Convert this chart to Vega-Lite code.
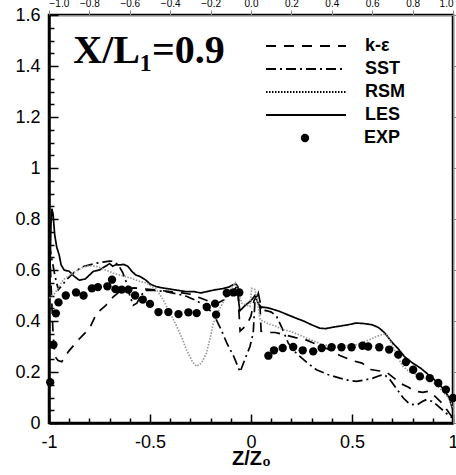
{
  "$schema": "https://vega.github.io/schema/vega-lite/v6.json",
  "autosize": {"type": "none"},
  "padding": {"left": 49, "top": 15, "right": 3, "bottom": 52},
  "width": 404,
  "height": 408,
  "background": "white",
  "config": {
    "view": {"stroke": "black", "strokeWidth": 2.5},
    "font": "Liberation Sans"
  },
  "resolve": {"axis": {"x": "independent", "y": "independent"}},
  "datasets": {
    "lines": [
      {"s":"LES","x":-0.998,"y":0.50},{"s":"LES","x":-0.99,"y":0.78},{"s":"LES","x":-0.986,"y":0.84},{"s":"LES","x":-0.98,"y":0.82},{"s":"LES","x":-0.972,"y":0.74},{"s":"LES","x":-0.962,"y":0.69},{"s":"LES","x":-0.95,"y":0.66},{"s":"LES","x":-0.94,"y":0.62},{"s":"LES","x":-0.925,"y":0.60},{"s":"LES","x":-0.9,"y":0.595},{"s":"LES","x":-0.875,"y":0.575},{"s":"LES","x":-0.85,"y":0.56},{"s":"LES","x":-0.82,"y":0.565},{"s":"LES","x":-0.8,"y":0.58},{"s":"LES","x":-0.78,"y":0.595},{"s":"LES","x":-0.75,"y":0.60},{"s":"LES","x":-0.72,"y":0.615},{"s":"LES","x":-0.70,"y":0.625},{"s":"LES","x":-0.685,"y":0.615},{"s":"LES","x":-0.67,"y":0.62},{"s":"LES","x":-0.65,"y":0.62},{"s":"LES","x":-0.63,"y":0.622},{"s":"LES","x":-0.61,"y":0.615},{"s":"LES","x":-0.59,"y":0.595},{"s":"LES","x":-0.57,"y":0.58},{"s":"LES","x":-0.55,"y":0.575},{"s":"LES","x":-0.52,"y":0.56},{"s":"LES","x":-0.50,"y":0.545},{"s":"LES","x":-0.47,"y":0.535},{"s":"LES","x":-0.44,"y":0.53},{"s":"LES","x":-0.40,"y":0.525},{"s":"LES","x":-0.36,"y":0.52},{"s":"LES","x":-0.32,"y":0.515},{"s":"LES","x":-0.28,"y":0.515},{"s":"LES","x":-0.25,"y":0.51},{"s":"LES","x":-0.22,"y":0.515},{"s":"LES","x":-0.18,"y":0.522},{"s":"LES","x":-0.14,"y":0.527},{"s":"LES","x":-0.11,"y":0.533},{"s":"LES","x":-0.09,"y":0.542},{"s":"LES","x":-0.075,"y":0.545},{"s":"LES","x":-0.065,"y":0.535},{"s":"LES","x":-0.06,"y":0.47},{"s":"LES","x":-0.055,"y":0.44},{"s":"LES","x":-0.03,"y":0.46},{"s":"LES","x":0.0,"y":0.48},{"s":"LES","x":0.02,"y":0.50},{"s":"LES","x":0.035,"y":0.47},{"s":"LES","x":0.05,"y":0.455},{"s":"LES","x":0.08,"y":0.452},{"s":"LES","x":0.10,"y":0.448},{"s":"LES","x":0.14,"y":0.438},{"s":"LES","x":0.18,"y":0.425},{"s":"LES","x":0.22,"y":0.412},{"s":"LES","x":0.26,"y":0.40},{"s":"LES","x":0.30,"y":0.385},{"s":"LES","x":0.34,"y":0.372},{"s":"LES","x":0.37,"y":0.37},{"s":"LES","x":0.40,"y":0.375},{"s":"LES","x":0.44,"y":0.38},{"s":"LES","x":0.48,"y":0.385},{"s":"LES","x":0.52,"y":0.392},{"s":"LES","x":0.56,"y":0.39},{"s":"LES","x":0.60,"y":0.385},{"s":"LES","x":0.63,"y":0.375},{"s":"LES","x":0.66,"y":0.355},{"s":"LES","x":0.70,"y":0.315},{"s":"LES","x":0.73,"y":0.29},{"s":"LES","x":0.76,"y":0.26},{"s":"LES","x":0.80,"y":0.235},{"s":"LES","x":0.84,"y":0.215},{"s":"LES","x":0.87,"y":0.195},{"s":"LES","x":0.90,"y":0.175},{"s":"LES","x":0.935,"y":0.15},{"s":"LES","x":0.96,"y":0.125},{"s":"LES","x":0.98,"y":0.10},{"s":"LES","x":1.0,"y":0.05},

      {"s":"k-ε","x":-0.997,"y":0.68},{"s":"k-ε","x":-0.99,"y":0.55},{"s":"k-ε","x":-0.98,"y":0.35},{"s":"k-ε","x":-0.97,"y":0.26},{"s":"k-ε","x":-0.955,"y":0.245},{"s":"k-ε","x":-0.937,"y":0.24},{"s":"k-ε","x":-0.904,"y":0.28},{"s":"k-ε","x":-0.85,"y":0.33},{"s":"k-ε","x":-0.80,"y":0.37},{"s":"k-ε","x":-0.764,"y":0.43},{"s":"k-ε","x":-0.72,"y":0.46},{"s":"k-ε","x":-0.682,"y":0.495},{"s":"k-ε","x":-0.65,"y":0.515},{"s":"k-ε","x":-0.62,"y":0.525},{"s":"k-ε","x":-0.58,"y":0.53},{"s":"k-ε","x":-0.52,"y":0.525},{"s":"k-ε","x":-0.45,"y":0.52},{"s":"k-ε","x":-0.40,"y":0.515},{"s":"k-ε","x":-0.34,"y":0.51},{"s":"k-ε","x":-0.30,"y":0.505},{"s":"k-ε","x":-0.25,"y":0.49},{"s":"k-ε","x":-0.20,"y":0.475},{"s":"k-ε","x":-0.17,"y":0.468},{"s":"k-ε","x":-0.13,"y":0.485},{"s":"k-ε","x":-0.10,"y":0.505},{"s":"k-ε","x":-0.075,"y":0.53},{"s":"k-ε","x":-0.065,"y":0.54},{"s":"k-ε","x":-0.06,"y":0.44},{"s":"k-ε","x":-0.054,"y":0.36},{"s":"k-ε","x":-0.021,"y":0.385},{"s":"k-ε","x":0.0,"y":0.42},{"s":"k-ε","x":0.015,"y":0.48},{"s":"k-ε","x":0.03,"y":0.50},{"s":"k-ε","x":0.045,"y":0.45},{"s":"k-ε","x":0.05,"y":0.36},{"s":"k-ε","x":0.08,"y":0.355},{"s":"k-ε","x":0.12,"y":0.355},{"s":"k-ε","x":0.17,"y":0.345},{"s":"k-ε","x":0.22,"y":0.335},{"s":"k-ε","x":0.26,"y":0.33},{"s":"k-ε","x":0.32,"y":0.31},{"s":"k-ε","x":0.38,"y":0.29},{"s":"k-ε","x":0.44,"y":0.265},{"s":"k-ε","x":0.50,"y":0.245},{"s":"k-ε","x":0.55,"y":0.235},{"s":"k-ε","x":0.59,"y":0.21},{"s":"k-ε","x":0.63,"y":0.205},{"s":"k-ε","x":0.67,"y":0.20},{"s":"k-ε","x":0.71,"y":0.175},{"s":"k-ε","x":0.74,"y":0.155},{"s":"k-ε","x":0.78,"y":0.14},{"s":"k-ε","x":0.81,"y":0.125},{"s":"k-ε","x":0.85,"y":0.12},{"s":"k-ε","x":0.88,"y":0.125},{"s":"k-ε","x":0.91,"y":0.105},{"s":"k-ε","x":0.95,"y":0.075},{"s":"k-ε","x":0.98,"y":0.04},{"s":"k-ε","x":1.0,"y":0.02},

      {"s":"SST","x":-0.997,"y":0.70},{"s":"SST","x":-0.99,"y":0.66},{"s":"SST","x":-0.97,"y":0.575},{"s":"SST","x":-0.954,"y":0.523},{"s":"SST","x":-0.935,"y":0.54},{"s":"SST","x":-0.913,"y":0.562},{"s":"SST","x":-0.87,"y":0.595},{"s":"SST","x":-0.83,"y":0.614},{"s":"SST","x":-0.764,"y":0.627},{"s":"SST","x":-0.70,"y":0.635},{"s":"SST","x":-0.682,"y":0.634},{"s":"SST","x":-0.657,"y":0.62},{"s":"SST","x":-0.635,"y":0.59},{"s":"SST","x":-0.616,"y":0.549},{"s":"SST","x":-0.60,"y":0.50},{"s":"SST","x":-0.583,"y":0.462},{"s":"SST","x":-0.565,"y":0.47},{"s":"SST","x":-0.545,"y":0.50},{"s":"SST","x":-0.52,"y":0.52},{"s":"SST","x":-0.48,"y":0.52},{"s":"SST","x":-0.42,"y":0.515},{"s":"SST","x":-0.36,"y":0.505},{"s":"SST","x":-0.32,"y":0.497},{"s":"SST","x":-0.27,"y":0.48},{"s":"SST","x":-0.23,"y":0.46},{"s":"SST","x":-0.187,"y":0.43},{"s":"SST","x":-0.15,"y":0.37},{"s":"SST","x":-0.12,"y":0.314},{"s":"SST","x":-0.085,"y":0.26},{"s":"SST","x":-0.054,"y":0.20},{"s":"SST","x":-0.03,"y":0.25},{"s":"SST","x":-0.005,"y":0.30},{"s":"SST","x":0.011,"y":0.353},{"s":"SST","x":0.02,"y":0.484},{"s":"SST","x":0.036,"y":0.51},{"s":"SST","x":0.053,"y":0.444},{"s":"SST","x":0.08,"y":0.44},{"s":"SST","x":0.10,"y":0.435},{"s":"SST","x":0.127,"y":0.418},{"s":"SST","x":0.155,"y":0.37},{"s":"SST","x":0.184,"y":0.314},{"s":"SST","x":0.21,"y":0.285},{"s":"SST","x":0.242,"y":0.261},{"s":"SST","x":0.28,"y":0.235},{"s":"SST","x":0.324,"y":0.209},{"s":"SST","x":0.38,"y":0.19},{"s":"SST","x":0.44,"y":0.176},{"s":"SST","x":0.48,"y":0.168},{"s":"SST","x":0.522,"y":0.163},{"s":"SST","x":0.56,"y":0.168},{"s":"SST","x":0.604,"y":0.176},{"s":"SST","x":0.638,"y":0.186},{"s":"SST","x":0.66,"y":0.19},{"s":"SST","x":0.688,"y":0.17},{"s":"SST","x":0.72,"y":0.135},{"s":"SST","x":0.754,"y":0.098},{"s":"SST","x":0.785,"y":0.075},{"s":"SST","x":0.82,"y":0.07},{"s":"SST","x":0.85,"y":0.085},{"s":"SST","x":0.869,"y":0.092},{"s":"SST","x":0.895,"y":0.085},{"s":"SST","x":0.918,"y":0.072},{"s":"SST","x":0.95,"y":0.05},{"s":"SST","x":0.984,"y":0.026},{"s":"SST","x":1.0,"y":0.02},

      {"s":"RSM","x":-0.998,"y":0.49},{"s":"RSM","x":-0.97,"y":0.51},{"s":"RSM","x":-0.95,"y":0.535},{"s":"RSM","x":-0.929,"y":0.562},{"s":"RSM","x":-0.90,"y":0.578},{"s":"RSM","x":-0.88,"y":0.588},{"s":"RSM","x":-0.83,"y":0.612},{"s":"RSM","x":-0.80,"y":0.617},{"s":"RSM","x":-0.764,"y":0.614},{"s":"RSM","x":-0.72,"y":0.60},{"s":"RSM","x":-0.682,"y":0.588},{"s":"RSM","x":-0.64,"y":0.578},{"s":"RSM","x":-0.60,"y":0.569},{"s":"RSM","x":-0.55,"y":0.555},{"s":"RSM","x":-0.517,"y":0.549},{"s":"RSM","x":-0.47,"y":0.525},{"s":"RSM","x":-0.435,"y":0.484},{"s":"RSM","x":-0.40,"y":0.43},{"s":"RSM","x":-0.368,"y":0.38},{"s":"RSM","x":-0.34,"y":0.33},{"s":"RSM","x":-0.32,"y":0.288},{"s":"RSM","x":-0.29,"y":0.24},{"s":"RSM","x":-0.27,"y":0.222},{"s":"RSM","x":-0.245,"y":0.235},{"s":"RSM","x":-0.22,"y":0.275},{"s":"RSM","x":-0.20,"y":0.34},{"s":"RSM","x":-0.187,"y":0.39},{"s":"RSM","x":-0.16,"y":0.44},{"s":"RSM","x":-0.137,"y":0.475},{"s":"RSM","x":-0.11,"y":0.515},{"s":"RSM","x":-0.088,"y":0.541},{"s":"RSM","x":-0.078,"y":0.55},{"s":"RSM","x":-0.065,"y":0.52},{"s":"RSM","x":-0.046,"y":0.47},{"s":"RSM","x":-0.02,"y":0.462},{"s":"RSM","x":-0.005,"y":0.457},{"s":"RSM","x":0.003,"y":0.528},{"s":"RSM","x":0.02,"y":0.523},{"s":"RSM","x":0.035,"y":0.46},{"s":"RSM","x":0.045,"y":0.405},{"s":"RSM","x":0.078,"y":0.392},{"s":"RSM","x":0.12,"y":0.38},{"s":"RSM","x":0.16,"y":0.366},{"s":"RSM","x":0.193,"y":0.36},{"s":"RSM","x":0.24,"y":0.345},{"s":"RSM","x":0.30,"y":0.325},{"s":"RSM","x":0.356,"y":0.307},{"s":"RSM","x":0.40,"y":0.302},{"s":"RSM","x":0.46,"y":0.302},{"s":"RSM","x":0.522,"y":0.307},{"s":"RSM","x":0.56,"y":0.318},{"s":"RSM","x":0.604,"y":0.333},{"s":"RSM","x":0.64,"y":0.345},{"s":"RSM","x":0.67,"y":0.35},{"s":"RSM","x":0.70,"y":0.305},{"s":"RSM","x":0.725,"y":0.26},{"s":"RSM","x":0.752,"y":0.222},{"s":"RSM","x":0.785,"y":0.20},{"s":"RSM","x":0.818,"y":0.19},{"s":"RSM","x":0.85,"y":0.178},{"s":"RSM","x":0.884,"y":0.17},{"s":"RSM","x":0.92,"y":0.148},{"s":"RSM","x":0.95,"y":0.124},{"s":"RSM","x":0.975,"y":0.10},{"s":"RSM","x":0.99,"y":0.078},{"s":"RSM","x":1.0,"y":0.06}
    ],
    "exp": [
      {"x":-0.994,"y":0.16},{"x":-0.978,"y":0.307},{"x":-0.966,"y":0.43},{"x":-0.953,"y":0.473},{"x":-0.917,"y":0.50},{"x":-0.866,"y":0.512},{"x":-0.829,"y":0.50},{"x":-0.788,"y":0.528},{"x":-0.758,"y":0.533},{"x":-0.711,"y":0.536},{"x":-0.688,"y":0.562},{"x":-0.671,"y":0.525},{"x":-0.64,"y":0.523},{"x":-0.607,"y":0.523},{"x":-0.574,"y":0.50},{"x":-0.536,"y":0.484},{"x":-0.50,"y":0.467},{"x":-0.458,"y":0.435},{"x":-0.409,"y":0.435},{"x":-0.359,"y":0.427},{"x":-0.31,"y":0.434},{"x":-0.269,"y":0.431},{"x":-0.219,"y":0.455},{"x":-0.178,"y":0.468},{"x":-0.173,"y":0.425},{"x":-0.12,"y":0.51},{"x":-0.087,"y":0.512},{"x":-0.058,"y":0.512},
      {"x":0.086,"y":0.264},{"x":0.114,"y":0.285},{"x":0.157,"y":0.294},{"x":0.209,"y":0.298},{"x":0.256,"y":0.285},{"x":0.308,"y":0.281},{"x":0.35,"y":0.294},{"x":0.399,"y":0.297},{"x":0.448,"y":0.297},{"x":0.498,"y":0.297},{"x":0.552,"y":0.303},{"x":0.58,"y":0.30},{"x":0.635,"y":0.297},{"x":0.684,"y":0.288},{"x":0.729,"y":0.268},{"x":0.767,"y":0.239},{"x":0.803,"y":0.209},{"x":0.836,"y":0.183},{"x":0.885,"y":0.176},{"x":0.927,"y":0.157},{"x":0.965,"y":0.131},{"x":1.0,"y":0.098}
    ],
    "label": [{"t": "X/L₁=0.9", "x": -0.88, "y": 1.41}]
  },
  "layer": [
    {
      "data": {"name": "lines"},
      "mark": {"type": "line", "strokeWidth": 1.7, "clip": true},
      "encoding": {
        "x": {
          "field": "x", "type": "quantitative",
          "scale": {"domain": [-1, 1], "nice": false, "zero": false},
          "axis": {
            "orient": "bottom",
            "title": "Z/Z₀",
            "titleFont": "Liberation Sans", "titleFontSize": 20, "titleFontWeight": "bold", "titleColor": "black", "titlePadding": -3,
            "values": [-1,-0.5,0,0.5,1],
            "labelExpr": "'' + datum.value",
            "labelFont": "Liberation Sans", "labelFontSize": 18, "labelColor": "black", "labelPadding": 19,
            "labelOverlap": false, "labelFlush": false,
            "tickSize": -9, "tickColor": "black", "tickWidth": 1.5,
            "domainColor": "black", "domainWidth": 2.5,
            "grid": false
          }
        },
        "y": {
          "field": "y", "type": "quantitative",
          "scale": {"domain": [0, 1.6], "nice": false, "zero": false},
          "axis": {
            "orient": "left",
            "title": null,
            "values": [0,0.2,0.4,0.6,0.8,1,1.2,1.4,1.6],
            "labelExpr": "'' + datum.value",
            "labelFont": "Liberation Sans", "labelFontSize": 18, "labelColor": "black", "labelPadding": 18,
            "labelOverlap": false,
            "tickSize": -9, "tickColor": "black", "tickWidth": 1.5,
            "domainColor": "black", "domainWidth": 2.5,
            "grid": false
          }
        },
        "color": {
          "condition": {"test": "datum.s === 'RSM'", "value": "#999999"},
          "value": "black"
        },
        "strokeDash": {
          "field": "s", "type": "nominal",
          "scale": {"domain": ["k-ε","SST","RSM","LES"], "range": [[10,8],[10,4,2,4],[1.5,1.5],[1,0]]},
          "legend": {
            "title": null,
            "orient": "none", "legendX": 216, "legendY": 22,
            "symbolType": "stroke", "symbolSize": 6400, "symbolStrokeWidth": 2,
            "clipHeight": 18, "rowPadding": 5,
            "labelFont": "Liberation Sans", "labelFontSize": 18, "labelFontWeight": "bold", "labelColor": "black", "labelOffset": 18,
            "encode": {
              "symbols": {
                "update": {
                  "stroke": {"signal": "datum.value === 'RSM' ? '#999999' : 'black'"}
                }
              }
            }
          }
        }
      }
    },
    {
      "data": {"name": "exp"},
      "mark": {"type": "point", "filled": true, "color": "black", "size": 70, "opacity": 1, "clip": false},
      "encoding": {
        "x": {
          "field": "x", "type": "quantitative",
          "axis": {
            "orient": "bottom", "title": null,
            "values": [-0.9,-0.8,-0.7,-0.6,-0.4,-0.3,-0.2,-0.1,0.1,0.2,0.3,0.4,0.6,0.7,0.8,0.9],
            "labels": false, "domain": false, "grid": false,
            "tickSize": -5, "tickColor": "black", "tickWidth": 1.5
          }
        },
        "y": {
          "field": "y", "type": "quantitative",
          "axis": {
            "orient": "left", "title": null,
            "values": [0.05,0.1,0.15,0.25,0.3,0.35,0.45,0.5,0.55,0.65,0.7,0.75,0.85,0.9,0.95,1.05,1.1,1.15,1.25,1.3,1.35,1.45,1.5,1.55],
            "labels": false, "domain": false, "grid": false,
            "tickSize": -5, "tickColor": "black", "tickWidth": 1.5
          }
        },
        "shape": {
          "datum": "EXP", "type": "nominal",
          "scale": {"domain": ["EXP"], "range": ["circle"]},
          "legend": {
            "title": null,
            "orient": "none", "legendX": 247, "legendY": 114,
            "symbolSize": 70, "symbolFillColor": "black", "symbolStrokeColor": "black",
            "clipHeight": 18,
            "labelFont": "Liberation Sans", "labelFontSize": 18, "labelFontWeight": "bold", "labelColor": "black", "labelOffset": 50
          }
        }
      }
    },
    {
      "data": {"name": "label"},
      "mark": {"type": "text", "font": "Liberation Serif", "fontSize": 40, "fontWeight": "bold", "align": "left", "baseline": "alphabetic", "color": "black"},
      "encoding": {
        "x": {"field": "x", "type": "quantitative"},
        "y": {"field": "y", "type": "quantitative"},
        "text": {"field": "t"}
      }
    }
  ]
}
